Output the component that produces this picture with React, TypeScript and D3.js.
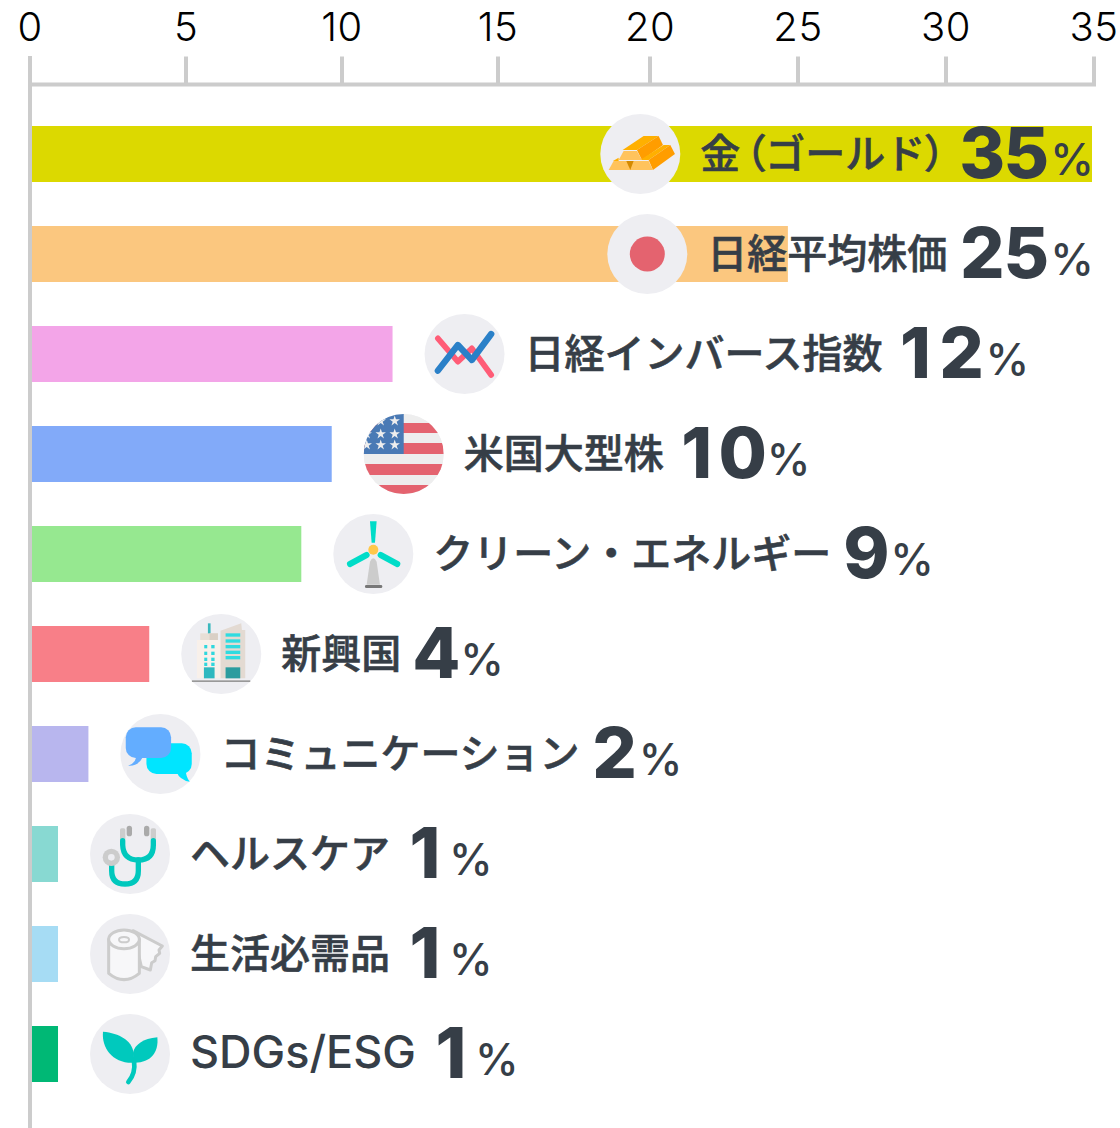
import { useEffect, useRef } from "react";
import * as d3 from "d3";

const categories = ["金（ゴールド）", "日経平均株価", "日経インバース指数", "米国大型株", "クリーン・エネルギー", "新興国", "コミュニケーション", "ヘルスケア", "生活必需品", "SDGs/ESG"];
const values = [35, 25, 12, 10, 9, 4, 2, 1, 1, 1];
const barColors = ["#dcd900", "#fbc77f", "#f3a5e8", "#82aaf9", "#96e890", "#f87f88", "#b8b6ee", "#88d9d2", "#a6dcf4", "#00b875"];
const tickValues = [0, 5, 10, 15, 20, 25, 30, 35];
// the axis in the picture is not evenly spaced with the bars
const tickPositions = [30, 186, 342, 498, 650, 798, 946, 1094];
const iconNames = ["gold", "sun", "zigzag", "flag", "turbine", "building", "chat", "stethoscope", "roll", "sprout"];

const WIDTH = 1120;
const HEIGHT = 1128;
const TEXT = "#363e47";
const CJK = "'Noto Sans CJK JP', sans-serif";
const NUM = "Inter, 'Liberation Sans', sans-serif";
const DIGIT_CELL = 44;

type G = d3.Selection<SVGGElement, unknown, null, undefined>;

// icons are drawn at 3x around their own centre, then scaled down
const layer = (g: G, cx: number, cy: number) =>
  g.append("g").attr("transform", `scale(${1 / 3}) translate(${-cx},${-cy})`);

const poly = (g: G, pts: string, fill: string) => g.append("polygon").attr("points", pts).attr("fill", fill);
const rect = (g: G, x: number, y: number, w: number, h: number, fill: string, r = 0) =>
  g.append("rect").attr("x", x).attr("y", y).attr("width", w).attr("height", h).attr("rx", r).attr("fill", fill);
const path = (g: G, d: string, fill: string, stroke = "none", sw = 0) =>
  g.append("path").attr("d", d).attr("fill", fill).attr("stroke", stroke).attr("stroke-width", sw)
    .attr("stroke-linecap", "round").attr("stroke-linejoin", "round");

const icons: Record<string, (g: G, i: number) => void> = {
  gold: (p) => {
    const g = layer(p, 150, 147);
    poly(g, "97,135 160,93 205,93 140,135", "#ffb000");
    poly(g, "140,135 205,93 218,120 155,165", "#ff9d00");
    poly(g, "150,165 220,120 240,120 175,165", "#ffb000");
    poly(g, "188,195 175,165 240,120 254,147", "#ff9d00");
    poly(g, "68,168 85,158 85,168", "#ffb000");
    poly(g, "55,195 70,168 175,168 188,195", "#ffc35c");
    poly(g, "85,165 100,138 140,138 155,165", "#ffc35c");
    poly(g, "108,168 130,168 120,195", "#d58a00");
  },
  sun: (p) => {
    p.append("circle").attr("r", 17.5).attr("fill", "#e4636f");
  },
  zigzag: (p) => {
    const g = layer(p, 435, 102);
    path(g, "M355,55 L415,125 L457,85 L515,165", "none", "#ff5c77", 17);
    path(g, "M355,152 L415,75 L457,120 L515,42", "none", "#2a80c8", 19);
  },
  flag: (p, i) => {
    const id = `flag-clip-${i}`;
    p.append("clipPath").attr("id", id).append("circle").attr("r", 40);
    const g = p.append("g").attr("clip-path", `url(#${id})`);
    rect(g, -40, -40, 80, 80, "#eeeeee");
    [[-31, 10], [-11, 11], [10, 11], [31, 10]].forEach(([y, h]) => rect(g, -40, y, 80, h, "#e4636f"));
    rect(g, -40, -40, 40, 40, "#4a7ab5");
    const star = d3.symbol().type(d3.symbolStar).size(34);
    [[-9, -33], [-23, -33], [-9, -20], [-23, -20], [-37, -20], [-9, -9], [-23, -9], [-37, -9]].forEach(([x, y]) =>
      g.append("path").attr("d", star()).attr("transform", `translate(${x},${y})`).attr("fill", "#eeeeee"));
  },
  turbine: (p) => {
    const g = layer(p, 160, 702);
    poly(g, "150,604 170,604 165,668 155,668", "#00dcc8");
    path(g, "M90,732 L140,705", "none", "#00dcc8", 18);
    path(g, "M232,732 L182,705", "none", "#00dcc8", 18);
    path(g, "M150,725 Q160,705 170,725 L180,794 L140,794 Z", "#cccccc");
    rect(g, 135, 795, 52, 9, "#777777", 4);
    g.append("circle").attr("cx", 160).attr("cy", 689).attr("r", 15).attr("fill", "#ffc84a");
  },
  building: (p) => {
    const g = layer(p, 425, 132);
    rect(g, 385, 40, 8, 32, "#3bb8bd");
    rect(g, 362, 70, 53, 22, "#e8dfd6");
    rect(g, 390, 70, 25, 22, "#d9cfc5");
    rect(g, 352, 90, 73, 115, "#f8f0ea");
    [105, 125, 143, 158].forEach((y) => {
      rect(g, 374, y, 9, 10, "#2fd7dd");
      rect(g, 395, y, 10, 10, "#2fd7dd");
    });
    rect(g, 373, 172, 32, 33, "#2fb8bf");
    poly(g, "423,62 485,40 487,60 497,60 497,205 423,205", "#e3dad2");
    [70, 88, 105, 122, 138].forEach((y) => rect(g, 438, y, 44, 10, "#2fdbe0"));
    rect(g, 438, 172, 44, 33, "#2b9c9f");
    rect(g, 337, 211, 175, 5, "#999999");
  },
  chat: (p) => {
    const g = layer(p, 242, 432);
    path(g, "M290,485 Q300,510 330,515 Q318,500 318,480 Z", "#00e5ff");
    rect(g, 200, 400, 136, 92, "#00e5ff", 30);
    path(g, "M170,440 Q165,462 145,467 Q175,470 190,440 Z", "#63adff");
    rect(g, 138, 352, 136, 92, "#63adff", 30);
  },
  stethoscope: (p) => {
    const g = layer(p, 150, 732);
    rect(g, 120, 655, 16, 36, "#cccccc", 5);
    rect(g, 212, 655, 16, 36, "#cccccc", 5);
    rect(g, 140, 647, 16, 32, "#aaaaaa", 8);
    rect(g, 192, 647, 16, 32, "#aaaaaa", 8);
    path(g, "M128,692 L128,705 Q130,750 175,750 Q220,750 220,705 L220,692", "none", "#00c8bd", 16);
    path(g, "M175,750 L175,782 Q175,822 135,822 Q95,822 95,782 L95,765", "none", "#00c8bd", 16);
    g.append("circle").attr("cx", 94).attr("cy", 742).attr("r", 26).attr("fill", "#cccccc");
    g.append("circle").attr("cx", 94).attr("cy", 742).attr("r", 10).attr("fill", "#eeeef2");
  },
  roll: (p) => {
    const g = layer(p, 391, 162);
    path(g, "M400,92 L488,138 L478,150 L480,160 L468,170 L466,182 L456,188 L452,210 L425,200 Z", "#f7f7f9", "#cccccc", 9);
    path(g, "M327,118 L327,220 Q373,258 419,220 L419,118 Z", "#f7f7f9", "#cccccc", 9);
    g.append("ellipse").attr("cx", 373).attr("cy", 118).attr("rx", 46).attr("ry", 28)
      .attr("fill", "#f7f7f9").attr("stroke", "#cccccc").attr("stroke-width", 9);
    g.append("ellipse").attr("cx", 373).attr("cy", 119).attr("rx", 15).attr("ry", 8)
      .attr("fill", "none").attr("stroke", "#cccccc").attr("stroke-width", 6);
  },
  sprout: (p) => {
    const g = layer(p, 391, 462);
    path(g, "M310,395 C360,400 395,420 402,458 L404,488 C340,492 305,445 310,395 Z", "#00c9bd");
    path(g, "M473,412 C430,415 405,435 400,458 L402,488 C450,490 478,460 473,412 Z", "#00c9bd");
    path(g, "M403,482 C407,510 400,530 386,546", "none", "#00c9bd", 14);
  },
};

export default function App() {
  const svgRef = useRef<SVGSVGElement>(null);

  useEffect(() => {
    if (!svgRef.current) return;
    const svg = d3.select(svgRef.current);
    svg.selectAll("*").remove();

    const x = d3.scaleLinear().domain([0, 35]).range([27.6, 1092]);
    const tickScale = d3.scaleLinear().domain(tickValues).range(tickPositions);
    const y = d3.scaleBand().domain(categories).range([104, 1104]).paddingInner(0.44).paddingOuter(0.22);

    // Axis
    const axis = svg.append("g")
      .attr("transform", "translate(0,84.5)")
      .call(d3.axisTop(tickScale).tickValues(tickValues).tickSizeInner(28).tickSizeOuter(0).tickPadding(16).offset(0));
    axis.select(".domain").attr("stroke", "#cccccc").attr("stroke-width", 4).attr("stroke-linecap", "square");
    axis.selectAll(".tick line").attr("stroke", "#cccccc").attr("stroke-width", 4);
    axis.selectAll(".tick text")
      .attr("fill", "#000")
      .attr("font-family", NUM)
      .attr("font-size", 40)
      .attr("font-weight", 300)
      .style("letter-spacing", "0.5px");

    svg.append("line")
      .attr("x1", tickScale(0)).attr("x2", tickScale(0))
      .attr("y1", 56).attr("y2", HEIGHT)
      .attr("stroke", "#cccccc").attr("stroke-width", 4);

    // Bars
    svg.selectAll(".bar")
      .data(categories)
      .enter()
      .append("rect")
      .attr("class", "bar")
      .attr("x", 32)
      .attr("y", (d) => y(d) || 0)
      .attr("width", (_, i) => x(values[i]) - 32)
      .attr("height", y.bandwidth())
      .attr("fill", (_, i) => barColors[i]);

    // Icon, name and value after each bar
    categories.forEach((name, i) => {
      const g = svg.append("g") as unknown as G;
      g.append("circle").attr("r", 40).attr("fill", "#eeeef2");
      icons[iconNames[i]](g, i);

      const latin = /^[\x00-\x7f]+$/.test(name);
      const label = g.append("text")
        .attr("x", 60).attr("y", 14)
        .attr("fill", TEXT)
        .attr("stroke", TEXT)
        .attr("stroke-width", latin ? 0 : 0.6)
        .attr("font-family", latin ? NUM : CJK)
        .attr("font-size", latin ? 45 : 40)
        .attr("font-weight", 500);
      // full width brackets are set tight, the rest stays on the em grid
      name.split(/([（）])/).filter(Boolean).forEach((part) => {
        label.append("tspan")
          .attr("dx", part === "（" ? 5 : 0)
          .style("font-feature-settings", /[（）]/.test(part) ? '"palt"' : "normal")
          .text(part);
      });
      const labelEnd = 60 + label.node()!.getComputedTextLength() + (name.includes("（") ? 7 : 0);

      // digits sit in equal cells, like the tabular figures of the original
      const numStart = labelEnd + 13;
      const digits = String(values[i]).split("");
      digits.forEach((digit, k) => {
        g.append("text")
          .attr("x", numStart + DIGIT_CELL * (k + 0.5) - (digit === "1" && digits.length > 1 ? 2 : 0))
          .attr("y", 24)
          .attr("text-anchor", "middle")
          .attr("fill", TEXT)
          .attr("font-family", NUM)
          .attr("font-size", 70)
          .attr("font-weight", 800)
          .text(digit);
      });
      const numEnd = numStart + DIGIT_CELL * digits.length;

      const pct = g.append("text")
        .attr("x", numEnd + 2).attr("y", 21)
        .attr("fill", TEXT)
        .attr("font-family", NUM)
        .attr("font-size", 44)
        .attr("font-weight", 500)
        .text("%");
      const end = numEnd + 2 + pct.node()!.getComputedTextLength();

      // long rows are pushed back so they stop at the plot's right edge
      const cx = Math.min(x(values[i]) + 72, x(35) + 2 - end);
      g.attr("transform", `translate(${cx},${(y(name) || 0) + y.bandwidth() / 2})`);
    });
  }, []);

  return (
    <svg
      ref={svgRef}
      width={WIDTH}
      height={HEIGHT}
      style={{ position: "absolute", left: 0, top: 0, display: "block", background: "#fff" }}
    />
  );
}
